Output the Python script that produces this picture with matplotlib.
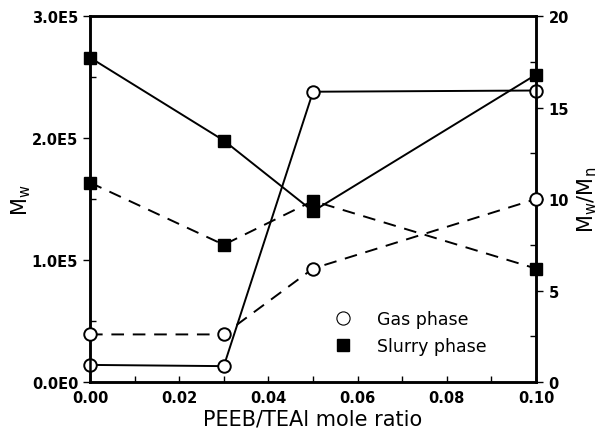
import matplotlib.pyplot as plt
from matplotlib.lines import Line2D
from matplotlib.ticker import MultipleLocator

# PEEB/TEAl mole ratio
ratio = [0.0, 0.03, 0.05, 0.10]

# Mw (left axis, solid lines)
gas_mw = [1.4e4, 1.3e4, 2.38e5, 2.39e5]
slurry_mw = [2.66e5, 1.98e5, 1.40e5, 2.52e5]

# Mw/Mn (right axis, dashed lines)
gas_pdi = [2.6, 2.6, 6.2, 10.0]
slurry_pdi = [10.9, 7.5, 9.9, 6.2]

mw_ticks = [0, 1e5, 2e5, 3e5]
mw_labels = ["0.0E0", "1.0E5", "2.0E5", "3.0E5"]
x_ticks = [0.0, 0.02, 0.04, 0.06, 0.08, 0.10]
x_labels = ["0.00", "0.02", "0.04", "0.06", "0.08", "0.10"]

fig = plt.figure(figsize=(6.06, 4.39), dpi=100)
ax = fig.add_axes([0.1485, 0.1276, 0.736, 0.8334])
ax2 = ax.twinx()

circ = dict(marker="o", ms=9, mfc="white", mec="black", mew=1.4)
sq = dict(marker="s", ms=9, mfc="black", mec="black")

ax.plot(ratio, gas_mw, color="black", lw=1.4, clip_on=False, zorder=3, **circ)
ax.plot(ratio, slurry_mw, color="black", lw=1.4, clip_on=False, zorder=3, **sq)
ax2.plot(ratio, gas_pdi, color="black", lw=1.4, ls=(0, (6.5, 4.5)), clip_on=False, zorder=3, **circ)
ax2.plot(ratio, slurry_pdi, color="black", lw=1.4, ls=(0, (6.5, 4.5)), clip_on=False, zorder=3, **sq)

ax.set_xlim(0, 0.10)
ax.set_ylim(0, 3e5)
ax2.set_ylim(0, 20)

tick_font = dict(fontsize=10.5, fontweight="bold")
ax.set_xticks(x_ticks)
ax.set_xticklabels(x_labels, **tick_font)
ax.xaxis.set_minor_locator(MultipleLocator(0.01))
ax.set_yticks(mw_ticks)
ax.set_yticklabels(mw_labels, **tick_font)
ax.yaxis.set_minor_locator(MultipleLocator(0.5e5))
ax2.set_yticks([0, 5, 10, 15, 20])
ax2.set_yticklabels(["0", "5", "10", "15", "20"], **tick_font)
ax2.yaxis.set_minor_locator(MultipleLocator(2.5))

ax.tick_params(axis="x", which="both", direction="in", length=4, width=1, pad=6)
ax.tick_params(axis="y", which="major", direction="out", length=5, width=1)
ax.tick_params(axis="y", which="minor", direction="in", length=4, width=1)
ax2.tick_params(axis="y", which="major", direction="out", length=5, width=1, pad=4)
ax2.tick_params(axis="y", which="minor", direction="in", length=4, width=1)

for a in (ax, ax2):
    for s in a.spines.values():
        s.set_linewidth(1.8)

ax.set_xlabel("PEEB/TEAl mole ratio", fontsize=15, labelpad=2)
ax.set_ylabel(r"$\mathregular{M_w}$", fontsize=15)
ax.yaxis.set_label_coords(-0.128, 0.5)
ax2.set_ylabel(r"$\mathregular{M_w/M_n}$", fontsize=15)
ax2.yaxis.set_label_coords(1.088, 0.5)

handles = [
    Line2D([], [], ls="none", marker="o", ms=9.5, mfc="white", mec="black", mew=0.8),
    Line2D([], [], ls="none", marker="s", ms=9, mfc="black", mec="black"),
]
ax2.legend(handles, ["Gas phase", "Slurry phase"], loc="lower right",
           bbox_to_anchor=(0.925, 0.03), frameon=False, fontsize=12.5,
           handletextpad=1.0, labelspacing=0.55)

plt.savefig("out.png", dpi=100)
